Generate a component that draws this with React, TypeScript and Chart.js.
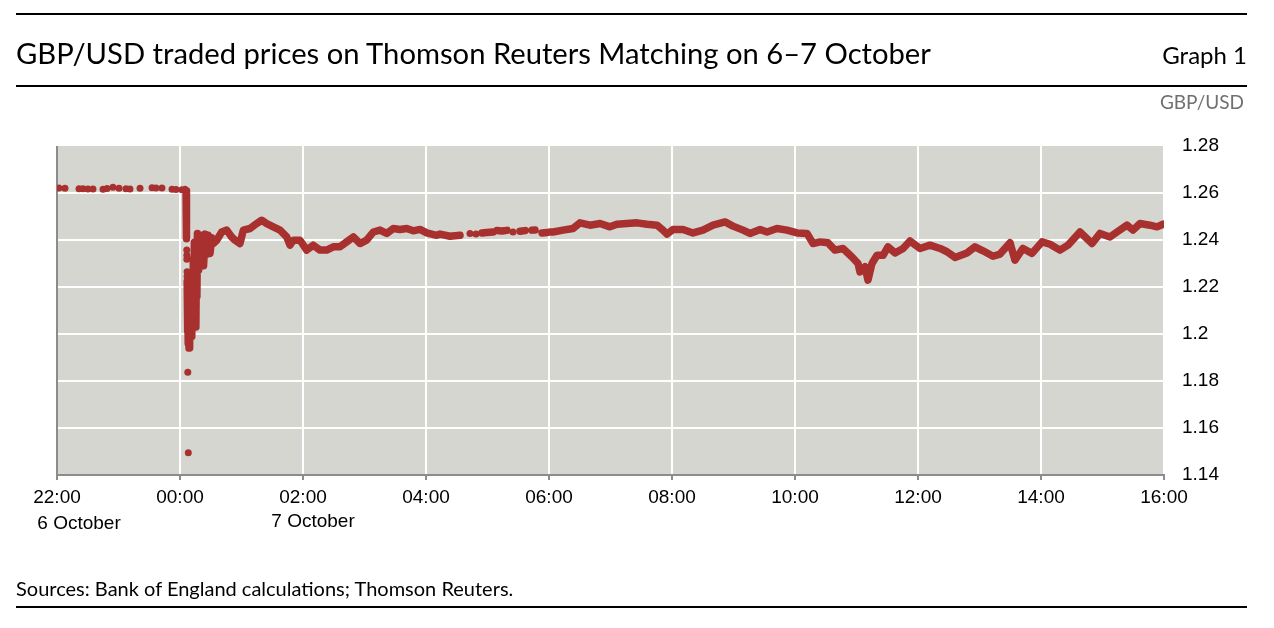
import React, { useEffect, useRef } from "react";
import { Chart, registerables } from "chart.js";

Chart.register(...registerables);

// x values are minutes after 22:00 on 6 October
const xTickLabels = ["22:00", "00:00", "02:00", "04:00", "06:00", "08:00", "10:00", "12:00", "14:00", "16:00"];
const dateLabels = ["6 October", "7 October"];
const dateLabelMinutes = [0, 240];

// isolated trades (drawn as dots)
const dotMinutes = [
  1.9, 7.8, 21.5, 25.4, 30.2, 35.1, 44.9, 48.8, 54.6, 60.5, 67.3, 71.2, 81.0, 92.7, 96.6, 102.4, 112.2, 116.1, 121.9,
  126.6, 126.7, 126.7, 126.9, 126.9, 127.6, 128.1,
  402.9, 408.8, 444.9,
];
const dotPrices = [
  1.2621, 1.262, 1.2618, 1.2618, 1.2617, 1.2617, 1.2616, 1.2619, 1.2624, 1.262, 1.2618, 1.2617, 1.262, 1.2622, 1.2621, 1.2621, 1.2616, 1.2615, 1.2614,
  1.2357, 1.2335, 1.2318, 1.2265, 1.2245, 1.1837, 1.1495,
  1.2428, 1.2426, 1.2434,
];

// dense trading (drawn as a thick trace); null = break in the trace
const pathMinutes = [
  125.0, 125.9, 126.1, 126.3, 126.4, 126.5, null,
  127.0, 127.3, 127.7, 128.0, 128.4, 128.8, 129.2, 129.6, 130.0, 130.5, 131.0, 131.5, 132.0, 132.5, 133.0, 133.5,
  134.0, 134.5, 135.0, 135.5, 136.0, 136.5, 137.0, 137.6, 138.2, 138.8, 139.5, 141.5, 143.0, 144.5, 146.0, 147.5,
  149.3, 151.0, 152.5, 155.8, 160.7, 165.6, 170.4, 173.7, 178.5, 181.8, 188.3, 194.8, 199.7, 204.6, 211.0, 217.6,
  224.1, 227.3, 230.5, 237.1, 243.6, 250.0, 256.6, 263.1, 269.6, 276.1, 282.6, 289.1, 295.6, 302.1, 308.6, 315.1,
  321.7, 328.1, 334.6, 341.2, 347.6, 354.1, 360.7, 370.4, 373.7, 383.4, 393.2, null,
  414.6, 419.0, 425.4, null,
  429.3, 434.0, 439.0, null,
  451.7, 456.6, null,
  463.4, 466.3, null,
  473.2, 478.0, null,
  481.0, 483.9, 493.7, 503.4, 510.2, 520.0, 529.8, 539.5, 546.3, 556.1, 565.9, 575.6, 585.4, 591.2, 595.1, 601.0,
  610.7, 620.5, 630.2, 640.0, 651.7, 659.5, 669.3, 676.1, 685.9, 692.7, 702.4, 712.2, 722.0, 731.7, 737.6, 744.4,
  752.2, 759.0, 766.8, 775.6, 781.5, 783.4, 788.3, 791.2, 795.1, 800.0, 805.9, 810.7, 817.6, 825.4, 832.2, 842.0,
  851.7, 861.5, 868.3, 876.1, 887.8, 895.6, 903.4, 913.2, 920.0, 929.8, 934.6, 942.4, 951.2, 961.0, 968.8, 978.5,
  986.3, 998.0, 1009.8, 1017.6, 1027.3, 1034.1, 1043.9, 1049.8, 1056.6, 1066.3, 1073.2, 1079.0,
];
const pathPrices = [
  1.2614, 1.261, 1.256, 1.25, 1.245, 1.2405, null,
  1.2225, 1.201, 1.219, 1.196, 1.216, 1.194, 1.221, 1.1985, 1.223, 1.2005, 1.221, 1.199, 1.225, 1.204, 1.232, 1.206,
  1.239, 1.208, 1.238, 1.203, 1.233, 1.216, 1.2428, 1.2272, 1.24, 1.23, 1.2328, 1.242, 1.229, 1.2425, 1.234, 1.242,
  1.2343, 1.241, 1.2385, 1.2399, 1.2434, 1.2442, 1.2413, 1.2399, 1.2385, 1.2442, 1.2449, 1.247, 1.2484, 1.247, 1.2456, 1.2442,
  1.2413, 1.2378, 1.2399, 1.2399, 1.2357, 1.2378, 1.2357, 1.2357, 1.2371, 1.2371, 1.2392, 1.2413, 1.2385, 1.2399, 1.2434, 1.2442,
  1.2428, 1.2449, 1.2445, 1.2449, 1.2439, 1.2445, 1.243, 1.242, 1.2425, 1.2416, 1.242, null,
  1.243, 1.2432, 1.2434, null,
  1.244, 1.2438, 1.2441, null,
  1.2437, 1.244, null,
  1.2442, 1.2443, null,
  1.243, 1.2432, null,
  1.2434, 1.2434, 1.2442, 1.2449, 1.2473, 1.2463, 1.247, 1.2456, 1.2467, 1.247, 1.2473, 1.2467, 1.2463, 1.2442, 1.2425, 1.2445,
  1.2445, 1.243, 1.2442, 1.2463, 1.2477, 1.2459, 1.2442, 1.2428, 1.2445, 1.2434, 1.2449, 1.2442, 1.243, 1.2428, 1.2385, 1.2392,
  1.2388, 1.2357, 1.2364, 1.2328, 1.23, 1.2264, 1.2286, 1.2229, 1.23, 1.2335, 1.2335, 1.2371, 1.2345, 1.2364, 1.2396, 1.2364,
  1.2378, 1.2364, 1.235, 1.2326, 1.2345, 1.2371, 1.2354, 1.2331, 1.234, 1.2388, 1.2314, 1.2364, 1.2343, 1.2392, 1.2382, 1.2357,
  1.2378, 1.2434, 1.2385, 1.2428, 1.2413, 1.2434, 1.2463, 1.2442, 1.247, 1.2463, 1.2456, 1.2467,
];

const RED = "#a8302f";
const PLOT_BG = "#d6d6d1";
const AXIS_GREY = "#8c8c8c";
const AXIS_FONT = "'Liberation Sans', Arial, sans-serif";
const TEXT_FONT = "Lato, 'Open Sans', sans-serif";

export default function App() {
  const canvasRef = useRef<HTMLCanvasElement | null>(null);

  useEffect(() => {
    const canvas = canvasRef.current;
    if (!canvas) return;

    const decor = {
      id: "decor",
      beforeDraw(chart: any) {
        const { ctx, chartArea } = chart;
        ctx.save();
        ctx.fillStyle = PLOT_BG;
        ctx.fillRect(chartArea.left, chartArea.top, chartArea.right - chartArea.left, chartArea.bottom - chartArea.top);
        ctx.restore();
      },
      beforeDatasetsDraw(chart: any) {
        const { ctx, chartArea } = chart;
        ctx.save();
        ctx.strokeStyle = AXIS_GREY;
        ctx.lineWidth = 2;
        ctx.beginPath();
        ctx.moveTo(chartArea.left, chartArea.top);
        ctx.lineTo(chartArea.left, chartArea.bottom + 1);
        ctx.stroke();
        ctx.restore();
      },
      afterDraw(chart: any) {
        const { ctx } = chart;
        const xs = chart.scales.x;
        const offsets = [22, 10];
        const ys = [524, 522];
        ctx.save();
        ctx.fillStyle = "#000";
        ctx.font = `19px ${AXIS_FONT}`;
        ctx.textAlign = "center";
        ctx.textBaseline = "middle";
        dateLabels.forEach((t, i) => {
          ctx.fillText(t, xs.getPixelForValue(dateLabelMinutes[i]) + offsets[i], ys[i]);
        });
        ctx.restore();
      },
    };

    const pathData = pathMinutes.map((m, i) => ({ x: m as any, y: pathPrices[i] as any }));
    const dotData = dotMinutes.map((m, i) => ({ x: m, y: dotPrices[i] }));

    const chart = new Chart(canvas, {
      type: "scatter",
      data: {
        datasets: [
          {
            label: "dense",
            data: pathData,
            showLine: true,
            spanGaps: false,
            borderColor: RED,
            backgroundColor: RED,
            borderWidth: 7.5,
            borderCapStyle: "round",
            borderJoinStyle: "round",
            pointRadius: 0,
            pointHoverRadius: 0,
            tension: 0,
          } as any,
          {
            label: "dots",
            data: dotData,
            showLine: false,
            borderColor: RED,
            backgroundColor: RED,
            borderWidth: 0,
            pointRadius: 3.5,
            pointHoverRadius: 3.5,
          } as any,
        ],
      },
      options: {
        animation: false,
        responsive: false,
        events: [],
        layout: { padding: { left: 57, top: 146, right: 0, bottom: 0 } },
        plugins: { legend: { display: false }, tooltip: { enabled: false } },
        scales: {
          x: {
            type: "linear",
            min: 0,
            max: 1080,
            afterFit: (s: any) => {
              s.height = 153;
            },
            ticks: {
              stepSize: 120,
              autoSkip: false,
              maxRotation: 0,
              padding: 6,
              color: "#000",
              font: { family: AXIS_FONT, size: 19 },
              callback: (v: any) => xTickLabels[Math.round(Number(v) / 120)] ?? "",
            },
            grid: {
              color: (c: any) => (c.tick && c.tick.value === 0 ? "rgba(0,0,0,0)" : "#ffffff"),
              lineWidth: 2,
              drawTicks: true,
              tickColor: AXIS_GREY,
              tickLength: 5,
              tickWidth: 2,
            },
            border: { display: true, color: AXIS_GREY, width: 2 },
          },
          y: {
            type: "linear",
            position: "right",
            min: 1.14,
            max: 1.28,
            afterFit: (s: any) => {
              s.width = 110;
            },
            ticks: {
              stepSize: 0.02,
              padding: 18,
              color: "#000",
              font: { family: AXIS_FONT, size: 19 },
              callback: (v: any) => String(Number(Number(v).toFixed(2))),
            },
            grid: {
              color: (c: any) =>
                c.tick && (Math.abs(c.tick.value - 1.28) < 1e-6 || Math.abs(c.tick.value - 1.14) < 1e-6)
                  ? "rgba(0,0,0,0)"
                  : "#ffffff",
              lineWidth: 2,
              drawTicks: false,
            },
            border: { display: false },
          },
        },
      },
      plugins: [decor],
    });

    return () => chart.destroy();
  }, []);

  const abs = (s: React.CSSProperties): React.CSSProperties => ({ position: "absolute", margin: 0, ...s });

  return (
    <div style={{ position: "absolute", left: 0, top: 0, width: 1274, height: 628, background: "#fff", overflow: "hidden" }}>
      <canvas ref={canvasRef} width={1274} height={628} style={abs({ left: 0, top: 0, width: 1274, height: 628 })} />
      <div style={abs({ left: 16, top: 13, width: 1231, height: 2, background: "#000" })} />
      <div
        style={abs({
          left: 16,
          top: 38,
          fontFamily: TEXT_FONT,
          fontSize: 29.2,
          lineHeight: "29px",
          color: "#000",
          whiteSpace: "nowrap",
        })}
      >
        GBP/USD traded prices on Thomson Reuters Matching on 6–7 October
      </div>
      <div
        style={abs({
          right: 1274 - 1247,
          top: 43,
          fontFamily: TEXT_FONT,
          fontSize: 24,
          lineHeight: "24px",
          color: "#000",
          whiteSpace: "nowrap",
        })}
      >
        Graph 1
      </div>
      <div style={abs({ left: 16, top: 85, width: 1231, height: 2, background: "#000" })} />
      <div
        style={abs({
          right: 1274 - 1244,
          top: 92,
          fontFamily: TEXT_FONT,
          fontSize: 19,
          lineHeight: "19px",
          color: "#707070",
          whiteSpace: "nowrap",
        })}
      >
        GBP/USD
      </div>
      <div
        style={abs({
          left: 16,
          top: 578,
          fontFamily: TEXT_FONT,
          fontSize: 20,
          lineHeight: "20px",
          color: "#000",
          whiteSpace: "nowrap",
        })}
      >
        Sources: Bank of England calculations; Thomson Reuters.
      </div>
      <div style={abs({ left: 16, top: 606, width: 1231, height: 2, background: "#000" })} />
    </div>
  );
}
